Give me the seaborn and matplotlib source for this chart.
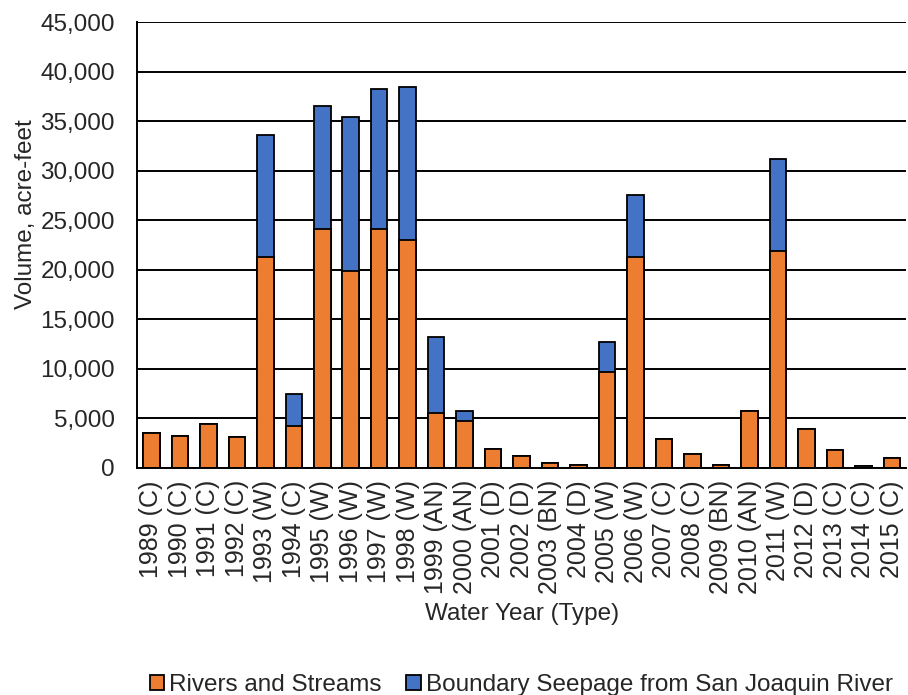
import pandas as pd
import matplotlib.pyplot as plt
import seaborn as sns

# Data (acre-feet)
years = ["1989 (C)", "1990 (C)", "1991 (C)", "1992 (C)", "1993 (W)", "1994 (C)",
         "1995 (W)", "1996 (W)", "1997 (W)", "1998 (W)", "1999 (AN)", "2000 (AN)",
         "2001 (D)", "2002 (D)", "2003 (BN)", "2004 (D)", "2005 (W)", "2006 (W)",
         "2007 (C)", "2008 (C)", "2009 (BN)", "2010 (AN)", "2011 (W)", "2012 (D)",
         "2013 (C)", "2014 (C)", "2015 (C)"]
rivers = [3500, 3200, 4400, 3100, 21250, 4250, 24100, 19900, 24150, 23000, 5500, 4750,
          1900, 1150, 450, 270, 9650, 21250, 2950, 1350, 270, 5750, 21850, 3950,
          1800, 150, 1000]
seepage = [0, 0, 0, 0, 12400, 3150, 12400, 15500, 14100, 15450, 7750, 1000,
           0, 0, 0, 0, 3100, 6250, 0, 0, 0, 0, 9300, 0,
           0, 0, 0]

df = pd.DataFrame({"year": years, "rivers": rivers, "seepage": seepage})
df["total"] = df["rivers"] + df["seepage"]

orange = "#ED7D31"
blue = "#4472C4"

sns.set_style("white")
plt.rcParams["font.family"] = ["Liberation Sans", "DejaVu Sans"]
plt.rcParams["font.size"] = 17

fig = plt.figure(figsize=(9.08, 6.95), dpi=100)
ax = fig.add_axes([0.151, 0.327, 0.847, 0.641])

# gridlines behind bars
ax.set_axisbelow(True)
ax.yaxis.grid(True, color="black", linewidth=1.4)

# stacked: draw total (blue) first, then rivers (orange) on top of it
sns.barplot(data=df, x="year", y="total", color=blue, saturation=1, width=0.58,
            edgecolor="black", linewidth=1.3, ax=ax,
            label="Boundary Seepage from San Joaquin River")
sns.barplot(data=df, x="year", y="rivers", color=orange, saturation=1, width=0.58,
            edgecolor="black", linewidth=1.3, ax=ax, label="Rivers and Streams")

ax.set_ylim(0, 45000)
ax.set_yticks(range(0, 45001, 5000))
ax.set_yticklabels([f"{v:,}" for v in range(0, 45001, 5000)], fontsize=17.5)
ax.tick_params(axis="y", length=4, width=1.2, color="black", pad=12)
ax.tick_params(axis="x", length=0, pad=9)
plt.setp(ax.get_xticklabels(), rotation=90, fontsize=18)
ax.set_xlim(-0.5, len(years) - 0.5)

for s in ["left", "bottom"]:
    ax.spines[s].set_color("black")
    ax.spines[s].set_linewidth(1.4)
ax.spines["right"].set_visible(False)
ax.spines["top"].set_visible(False)

ax.set_xlabel("Water Year (Type)", fontsize=17.5, labelpad=6)
ax.set_ylabel("Volume, acre-feet", fontsize=17.5)
ax.yaxis.set_label_coords(-0.13, 0.57)

handles, labels = ax.get_legend_handles_labels()
order = [labels.index("Rivers and Streams"),
         labels.index("Boundary Seepage from San Joaquin River")]
ax.legend([handles[i] for i in order], [labels[i] for i in order],
          loc="lower center", bbox_to_anchor=(0.574, -0.026), bbox_transform=fig.transFigure,
          ncol=2, frameon=False, fontsize=17.5, handlelength=0.6, handleheight=0.6,
          handletextpad=0.2, columnspacing=1.0, borderpad=0.2)

fig.savefig("out.png", dpi=100)
